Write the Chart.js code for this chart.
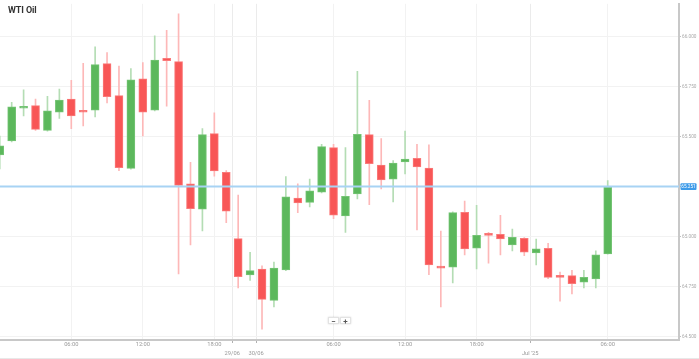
<!DOCTYPE html>
<html><head><meta charset="utf-8">
<script src="https://cdn.jsdelivr.net/npm/chart.js@4/dist/chart.umd.min.js"></script>
<style>
html,body{margin:0;padding:0;background:#fff;}
#wrap{position:relative;width:699px;height:359px;overflow:hidden;}
#c{position:absolute;left:0;top:0;}
#title{position:absolute;left:8px;top:5px;font:bold 9px Roboto, sans-serif;color:#333;letter-spacing:-0.1px;}
#zoom{position:absolute;left:328px;top:317px;display:flex;gap:1px;}
.zb{display:block;width:11px;height:7px;border:1px solid #e3e3e3;box-shadow:0 0 2px rgba(0,0,0,0.18);background:#fff;font:bold 8px Roboto, sans-serif;line-height:7px;text-align:center;color:#555;box-sizing:border-box;}
#bline{position:absolute;left:0;top:358px;width:699px;height:1px;background:#e8e8e8;}
</style></head><body>
<div id="wrap">
<canvas id="c" width="699" height="359"></canvas>
<div id="title">WTI Oil</div>
<div id="zoom"><span class="zb">−</span><span class="zb">+</span></div>
<div id="bline"></div>
</div>
<script>
// Hourly candles (open, high, low, close)
const opens  = [65.410,65.480,65.643,65.656,65.532,65.623,65.689,65.630,65.633,65.866,
                65.706,65.342,65.790,65.633,65.892,65.876,65.265,65.138,65.516,65.323,
                64.991,64.809,64.838,64.682,64.835,65.194,65.172,65.223,65.446,65.105,
                65.214,65.511,65.359,65.288,65.374,65.393,65.344,64.853,64.848,65.123,
                64.943,65.015,65.012,64.959,64.992,64.920,64.943,64.806,64.806,64.773,
                64.789,64.915];
const highs  = [65.504,65.673,65.735,65.689,65.703,65.739,65.782,65.868,65.950,65.921,
                65.854,65.841,65.871,66.005,66.033,66.115,65.372,65.541,65.620,65.331,
                65.209,64.923,64.855,64.873,65.301,65.265,65.289,65.463,65.463,65.446,
                65.828,65.683,65.491,65.381,65.529,65.463,65.460,65.029,65.125,65.179,
                65.158,65.022,65.108,65.039,64.996,64.989,64.967,64.824,64.832,64.832,
                64.930,65.281];
const lows   = [65.339,65.475,65.604,65.532,65.528,65.592,65.541,65.554,65.600,65.669,
                65.331,65.338,65.504,65.630,65.653,64.814,64.959,65.029,65.303,65.071,
                64.744,64.782,64.538,64.650,64.831,65.121,65.149,65.220,65.091,65.022,
                65.190,65.161,65.240,65.174,65.314,65.034,64.811,64.650,64.769,64.910,
                64.840,64.868,64.910,64.930,64.906,64.860,64.791,64.678,64.715,64.744,
                64.744,64.913];
const closes = [65.455,65.650,65.650,65.537,65.630,65.684,65.604,65.623,65.861,65.701,
                65.346,65.785,65.623,65.884,65.881,65.257,65.141,65.511,65.329,65.128,
                64.801,64.831,64.687,64.843,65.200,65.169,65.230,65.451,65.108,65.202,
                65.512,65.366,65.284,65.369,65.389,65.349,64.860,64.843,65.121,64.940,
                65.007,65.007,64.989,64.997,64.923,64.940,64.797,64.797,64.766,64.797,
                64.910,65.248];

// Axis ticks (x positions are candle slots)
const timeTickValues = [6, 12, 18, 28, 34, 40, 51];
const timeTickLabels = ['06:00','12:00','18:00','06:00','12:00','18:00','06:00'];
const dateTickValues = [19.5, 21.5, 44.5];
const dateTickLabels = ['29/06','30/06',"Jul '25"];
const yTickValues = [64.5, 64.75, 65.0, 65.25, 65.5, 65.75, 66.0];

const lastPrice = 65.251;
const lastPriceLabel = '65.251';

const X_MIN = 0.02, X_MAX = 56.98;
const Y_MIN = 64.484, Y_MAX = 66.165;

const slots = opens.map((_, i) => i);
const up = slots.map(i => closes[i] >= opens[i]);

const xTicks = timeTickValues.map((v, i) => ({value: v, label: timeTickLabels[i], date: false}))
  .concat(dateTickValues.map((v, i) => ({value: v, label: ['', dateTickLabels[i]], date: true})))
  .sort((a, b) => a.value - b.value);
const isDateTick = v => dateTickValues.includes(v);

const priceTag = {
  id: 'priceTag',
  afterDraw(chart) {
    const y = chart.scales.y.getPixelForValue(lastPrice);
    const c = chart.ctx;
    c.save();
    c.fillStyle = '#3d9be9';
    c.beginPath();
    if (c.roundRect) c.roundRect(680.5, y - 3.3, 16, 6.6, 1); else c.rect(680.5, y - 3.3, 16, 6.6);
    c.fill();
    c.fillStyle = '#ffffff';
    c.font = '4.7px Roboto';
    c.textAlign = 'center';
    c.textBaseline = 'middle';
    c.fillText(lastPriceLabel, 688.5, y + 0.2);
    c.restore();
  }
};

Chart.defaults.font.family = 'Roboto';

new Chart(document.getElementById('c'), {
  type: 'bar',
  data: {
    datasets: [
      {
        type: 'line',
        data: [{x: X_MIN, y: lastPrice}, {x: X_MAX, y: lastPrice}],
        borderColor: '#a8d3f4',
        borderWidth: 2,
        pointRadius: 0,
        order: 0
      },
      {
        data: slots.map(i => ({x: i, y: [opens[i], closes[i]]})),
        backgroundColor: up.map(u => u ? '#5cb85c' : '#f85656'),
        borderColor: up.map(u => u ? '#74c474' : '#fa7a7a'),
        borderWidth: 1,
        borderSkipped: false,
        barThickness: 8,
        minBarLength: 2,
        grouped: false,
        order: 1
      },
      {
        data: slots.map(i => ({x: i, y: [lows[i], highs[i]]})),
        backgroundColor: up.map(u => u ? '#b4ddb4' : '#fdb8b8'),
        borderWidth: 0,
        barThickness: 1,
        grouped: false,
        order: 2
      }
    ]
  },
  options: {
    responsive: false,
    animation: false,
    devicePixelRatio: 1,
    layout: {padding: 0},
    plugins: {legend: {display: false}, tooltip: {enabled: false}},
    scales: {
      x: {
        type: 'linear',
        position: 'bottom',
        min: X_MIN,
        max: X_MAX,
        offset: false,
        afterBuildTicks: s => { s.ticks = xTicks.map(t => ({value: t.value})); },
        afterFit: s => { s.height = 19; },
        ticks: {
          autoSkip: false,
          maxRotation: 0,
          padding: -2.5,
          color: '#999',
          font: {size: 5.75, lineHeight: 1.565},
          callback: (v, i) => xTicks[i].label
        },
        grid: {
          offset: false,
          color: ctx => (ctx.tick && isDateTick(ctx.tick.value)) ? '#ebebeb' : '#f2f2f2',
          tickLength: 3,
          tickColor: ctx => (ctx.tick && isDateTick(ctx.tick.value)) ? '#b0b0b0' : 'rgba(0,0,0,0)'
        },
        border: {color: '#c8c8c8', width: 2}
      },
      y: {
        type: 'linear',
        position: 'right',
        min: Y_MIN,
        max: Y_MAX,
        afterBuildTicks: s => { s.ticks = yTickValues.map(v => ({value: v})); },
        afterFit: s => { s.width = 20; },
        ticks: {
          padding: 1,
          color: '#aaa',
          font: {size: 4.7},
          callback: v => Number(v).toFixed(3)
        },
        grid: {color: '#f2f2f2', tickLength: 2, tickColor: '#c0c0c0'},
        border: {color: '#c8c8c8', width: 2}
      }
    }
  },
  plugins: [priceTag]
});
</script>
</body></html>
